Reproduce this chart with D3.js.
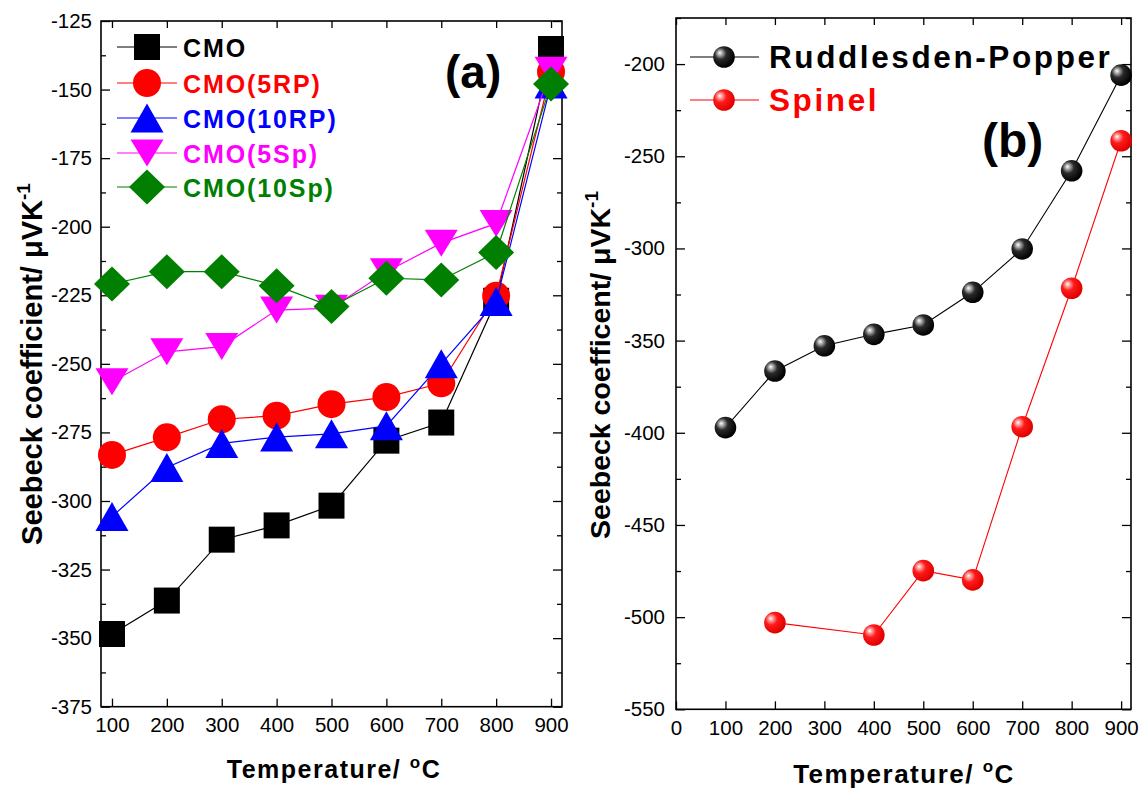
<!DOCTYPE html>
<html><head><meta charset="utf-8">
<script src="https://cdn.jsdelivr.net/npm/d3@7"></script>
<style>body{margin:0;background:#fff}text{font-family:"Liberation Sans",Arial,sans-serif}</style>
</head><body>
<svg id="c" width="1143" height="790"></svg>
<script>
// ---- Panel (a) data ----
const tempsA = [100, 200, 300, 400, 500, 600, 700, 800, 900];
const cmo    = [-348.5, -336.3, -314.1, -308.9, -301.7, -278.0, -271.4, -227.0, -135.2];
const cmo5RP = [-283.2, -276.8, -270.2, -268.9, -264.7, -262.1, -257.1, -225.2, -143.5];
const cmo10RP= [-305.7, -287.8, -279.0, -276.7, -275.5, -272.6, -250.0, -227.3, -148.0];
const cmo5Sp = [-256.5, -245.6, -243.7, -230.4, -229.7, -216.4, -206.0, -198.8, -143.0];
const cmo10Sp= [-220.9, -216.4, -216.4, -221.5, -229.1, -218.8, -219.4, -209.4, -148.0];
const seriesNamesA = ["CMO", "CMO(5RP)", "CMO(10RP)", "CMO(5Sp)", "CMO(10Sp)"];
const xTicksA = [100, 200, 300, 400, 500, 600, 700, 800, 900];
const yTicksA = [-375, -350, -325, -300, -275, -250, -225, -200, -175, -150, -125];

// ---- Panel (b) data ----
const tempsRP = [100, 200, 300, 400, 500, 600, 700, 800, 900];
const rpValues = [-397.2, -366.5, -352.8, -346.6, -341.5, -323.8, -300.3, -257.9, -206.0];
const tempsSp = [200, 400, 500, 600, 700, 800, 900];
const spValues = [-503.0, -509.7, -474.8, -479.8, -396.7, -321.6, -241.6];
const seriesNamesB = ["Ruddlesden-Popper", "Spinel"];
const xTicksB = [0, 100, 200, 300, 400, 500, 600, 700, 800, 900];
const yTicksB = [-550, -500, -450, -400, -350, -300, -250, -200];

const svg = d3.select("#c");
const fmt = d => String(d);

// marker shapes
function markerPath(type) {
  switch (type) {
    case "square": { const h = 13; return `M${-h},${-h}H${h}V${h}H${-h}Z`; }
    case "circle": { const r = 14; return `M${-r},0A${r},${r} 0 1,0 ${r},0A${r},${r} 0 1,0 ${-r},0Z`; }
    case "up":     return "M0,-14.5L16.5,14.5L-16.5,14.5Z";
    case "down":   return "M0,13.5L16.5,-13.5L-16.5,-13.5Z";
    case "diamond":return "M0,-17.5L18,0L0,17.5L-18,0Z";
  }
}

// ---------------- Panel (a) ----------------
const xA = d3.scaleLinear().domain([80, 920]).range([101, 562]);
const yA = d3.scaleLinear().domain([-375, -125]).range([706.7, 21]);
const gA = svg.append("g");

function styleLabels(a) {
  a.select(".domain").remove();
  a.selectAll("text").attr("font-size", 20.5).attr("fill", "#000").style("font-family", '"Liberation Sans",Arial,sans-serif');
  a.selectAll("line").attr("stroke-width", 1.3);
}
function styleBare(a) {
  a.select(".domain").remove();
  a.selectAll("line").attr("stroke-width", 1.3);
}

function drawAxes(g, x, y, xt, yt, yMinor, tl) {
  const [x0, x1] = x.range(), [y0, y1] = y.range();
  g.append("g").attr("transform", `translate(0,${y0})`)
    .call(d3.axisBottom(x).tickValues(xt).tickSize(-8).tickPadding(11).tickFormat(fmt)).call(styleLabels);
  g.append("g").attr("transform", `translate(0,${y1})`)
    .call(d3.axisTop(x).tickValues(xt).tickSize(-7).tickFormat("")).call(styleBare);
  g.append("g").attr("transform", `translate(${x0},0)`)
    .call(d3.axisLeft(y).tickValues(yt).tickSize(-9).tickPadding(tl).tickFormat(fmt)).call(styleLabels);
  g.append("g").attr("transform", `translate(${x0},0)`)
    .call(d3.axisLeft(y).tickValues(yMinor).tickSize(-5).tickFormat("")).call(styleBare);
  g.append("g").attr("transform", `translate(${x1},0)`)
    .call(d3.axisRight(y).tickValues(yt).tickSize(-9).tickFormat("")).call(styleBare);
  g.append("g").attr("transform", `translate(${x1},0)`)
    .call(d3.axisRight(y).tickValues(yMinor).tickSize(-5).tickFormat("")).call(styleBare);
  g.append("rect").attr("x", x0).attr("y", y1).attr("width", x1 - x0).attr("height", y0 - y1)
    .attr("fill", "none").attr("stroke", "#000").attr("stroke-width", 1.6);
}

const minorA = d3.range(yTicksA.length - 1).map(i => (yTicksA[i] + yTicksA[i + 1]) / 2);
drawAxes(gA, xA, yA, xTicksA, yTicksA, minorA, 9);

const seriesA = [
  { name: seriesNamesA[0], values: cmo,    color: "#000000", shape: "square" },
  { name: seriesNamesA[1], values: cmo5RP, color: "#ff0000", shape: "circle" },
  { name: seriesNamesA[2], values: cmo10RP,color: "#0000ff", shape: "up" },
  { name: seriesNamesA[3], values: cmo5Sp, color: "#ff00ff", shape: "down" },
  { name: seriesNamesA[4], values: cmo10Sp,color: "#007f00", shape: "diamond" }
];
const lineA = d3.line().x(d => xA(d[0])).y(d => yA(d[1]));
seriesA.forEach(s => {
  const pts = tempsA.map((t, i) => [t, s.values[i]]);
  gA.append("path").attr("d", lineA(pts)).attr("fill", "none").attr("stroke", s.color).attr("stroke-width", 1.2);
  gA.selectAll(null).data(pts).enter().append("path")
    .attr("d", markerPath(s.shape)).attr("transform", d => `translate(${xA(d[0])},${yA(d[1])})`)
    .attr("fill", s.color);
});

// legend (a)
const legA = [47, 83, 118, 153, 187];
seriesA.forEach((s, i) => {
  const yy = legA[i];
  gA.append("line").attr("x1", 117).attr("x2", 177).attr("y1", yy).attr("y2", yy).attr("stroke", s.color).attr("stroke-width", 1.2);
  gA.append("path").attr("d", markerPath(s.shape)).attr("transform", `translate(147,${yy})`).attr("fill", s.color);
  gA.append("text").attr("x", 183).attr("y", yy + 9.5).attr("font-size", 25).attr("font-weight", "bold")
    .attr("letter-spacing", 1.9).attr("fill", s.color).text(s.name);
});
gA.append("text").attr("x", 445).attr("y", 88).attr("font-size", 46).attr("font-weight", "bold").text("(a)");

// axis titles (a)
const ytA = gA.append("text").attr("transform", "translate(42,364) rotate(-90)").attr("text-anchor", "middle")
  .attr("font-size", 29).attr("font-weight", "bold");
ytA.append("tspan").text("Seebeck coefficient/ μVK");
ytA.append("tspan").attr("font-size", 19).attr("dy", -12).text("-1");
const xtA = gA.append("text").attr("x", 334).attr("y", 778).attr("text-anchor", "middle")
  .attr("font-size", 25).attr("font-weight", "bold").attr("letter-spacing", 1.5);
xtA.append("tspan").text("Temperature/ ");
xtA.append("tspan").attr("font-size", 17).attr("dy", -10).text("o");
xtA.append("tspan").attr("dy", 10).text("C");

// ---------------- Panel (b) ----------------
const xB = d3.scaleLinear().domain([0, 920]).range([676, 1131]);
const yB = d3.scaleLinear().domain([-550, -175]).range([709.3, 18]);
const gB = svg.append("g");
const minorB = yTicksB.map(v => v + 25);
drawAxes(gB, xB, yB, xTicksB, yTicksB, minorB, 11);

const defs = svg.append("defs");
function sphereGrad(id, c1, c2, c3) {
  const g = defs.append("radialGradient").attr("id", id).attr("cx", "38%").attr("cy", "38%").attr("r", "62%").attr("fx", "30%").attr("fy", "30%");
  g.append("stop").attr("offset", "0%").attr("stop-color", "#ffffff");
  g.append("stop").attr("offset", "14%").attr("stop-color", c1);
  g.append("stop").attr("offset", "45%").attr("stop-color", c2);
  g.append("stop").attr("offset", "100%").attr("stop-color", c3);
}
sphereGrad("gBlack", "#bdbdbd", "#2a2a2a", "#000000");
sphereGrad("gRed", "#ffb0b0", "#ff1a1a", "#e00000");

const seriesB = [
  { name: seriesNamesB[0], t: tempsRP, v: rpValues, color: "#000000", grad: "url(#gBlack)" },
  { name: seriesNamesB[1], t: tempsSp, v: spValues, color: "#ff0000", grad: "url(#gRed)" }
];
const lineB = d3.line().x(d => xB(d[0])).y(d => yB(d[1]));
seriesB.forEach(s => {
  const pts = s.t.map((t, i) => [t, s.v[i]]);
  gB.append("path").attr("d", lineB(pts)).attr("fill", "none").attr("stroke", s.color).attr("stroke-width", 1.1);
  gB.selectAll(null).data(pts).enter().append("circle")
    .attr("cx", d => xB(d[0])).attr("cy", d => yB(d[1])).attr("r", 10.8).attr("fill", s.grad);
});
const legB = [57, 100];
seriesB.forEach((s, i) => {
  const yy = legB[i];
  gB.append("line").attr("x1", 690).attr("x2", 759).attr("y1", yy).attr("y2", yy).attr("stroke", s.color).attr("stroke-width", 1.1);
  gB.append("circle").attr("cx", 724).attr("cy", yy).attr("r", 10.8).attr("fill", s.grad);
  gB.append("text").attr("x", 769).attr("y", yy + 10.5).attr("font-size", 31.5).attr("font-weight", "bold")
    .attr("letter-spacing", 2.6).attr("fill", s.color).text(s.name);
});
gB.append("text").attr("x", 982).attr("y", 157).attr("font-size", 48).attr("font-weight", "bold").text("(b)");

const ytB = gB.append("text").attr("transform", "translate(610,365) rotate(-90)").attr("text-anchor", "middle")
  .attr("font-size", 28.5).attr("font-weight", "bold");
ytB.append("tspan").text("Seebeck coefficent/ μVK");
ytB.append("tspan").attr("font-size", 19).attr("dy", -12).text("-1");
const xtB = gB.append("text").attr("x", 904).attr("y", 783).attr("text-anchor", "middle")
  .attr("font-size", 26).attr("font-weight", "bold").attr("letter-spacing", 1.5);
xtB.append("tspan").text("Temperature/ ");
xtB.append("tspan").attr("font-size", 17).attr("dy", -11).text("o");
xtB.append("tspan").attr("dy", 11).text("C");
</script>
</body></html>
